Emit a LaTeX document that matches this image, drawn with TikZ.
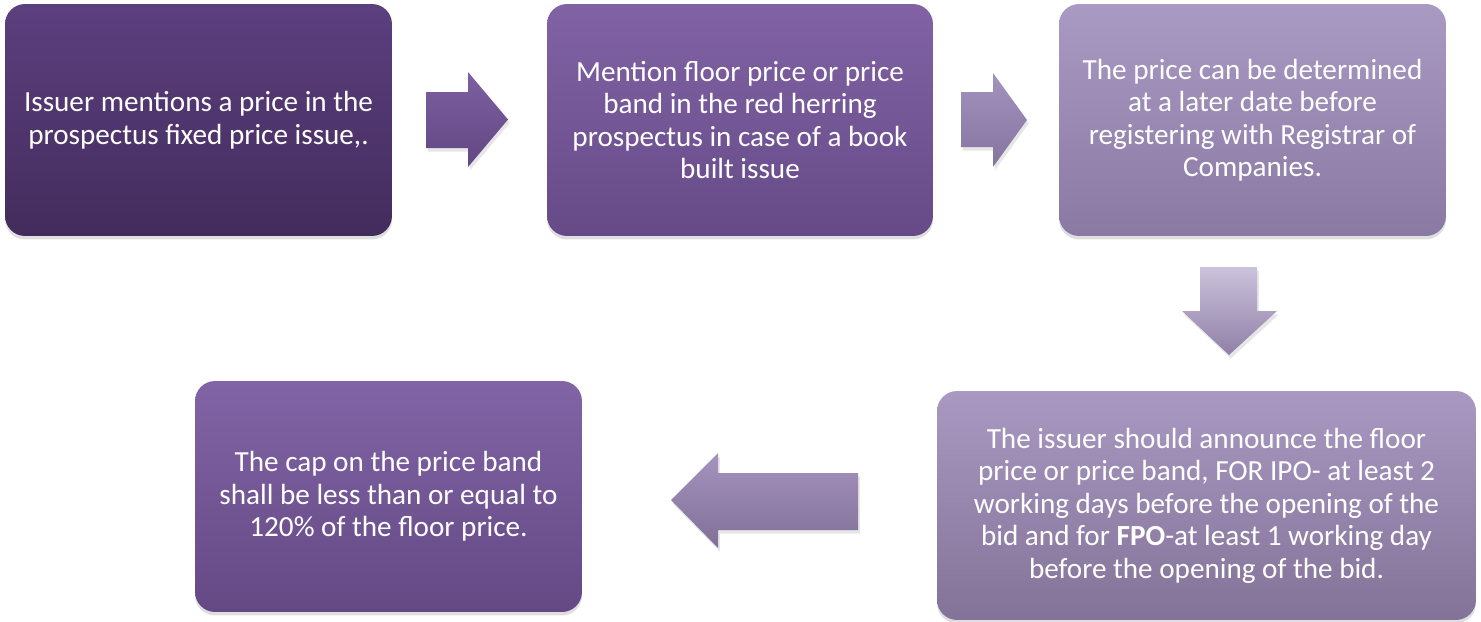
\documentclass[tikz,border=0pt]{standalone}
\usepackage{fontspec}
\setmainfont{Carlito}
\usetikzlibrary{shadows}

\definecolor{boxonetop}{HTML}{5C3F7F}
\definecolor{boxonebot}{HTML}{432C5C}
\definecolor{boxtwotop}{HTML}{8163A5}
\definecolor{boxtwobot}{HTML}{664A87}
\definecolor{boxthreetop}{HTML}{A99AC3}
\definecolor{boxthreebot}{HTML}{8A79A3}
\definecolor{boxfourtop}{HTML}{A999C2}
\definecolor{boxfourbot}{HTML}{837398}
\definecolor{boxfivetop}{HTML}{8164A5}
\definecolor{boxfivebot}{HTML}{644985}

\begin{document}
\begin{tikzpicture}[x=0.02cm, y=-0.02cm,
    stepbox/.style={rounded corners=0.4cm, align=center, text=white, inner sep=0pt,
      font=\fontsize{16.6}{18.5}\selectfont,
      drop shadow={opacity=0.25, shadow xshift=0pt, shadow yshift=-2pt}},
    flowarrow/.style={drop shadow={opacity=0.2, shadow xshift=1pt, shadow yshift=-2pt}}]
  \useasboundingbox (0,0) rectangle (1481,622);

  \node[stepbox, top color=boxonetop, bottom color=boxonebot, minimum width=7.74cm, minimum height=4.64cm] (issuer) at (198.5,120)
    {Issuer mentions a price in the\\prospectus fixed price issue,.};
  \node[stepbox, top color=boxtwotop, bottom color=boxtwobot, minimum width=7.72cm, minimum height=4.64cm] (floor) at (740,120)
    {Mention floor price or price\\band in the red herring\\prospectus in case of a book\\built issue};
  \node[stepbox, top color=boxthreetop, bottom color=boxthreebot, minimum width=7.74cm, minimum height=4.64cm] (later) at (1252.5,120)
    {The price can be determined\\at a later date before\\registering with Registrar of\\Companies.};
  \node[stepbox, top color=boxfourtop, bottom color=boxfourbot, minimum width=10.78cm, minimum height=4.58cm] (announce) at (1206.5,505.5)
    {The issuer should announce the floor\\price or price band, FOR IPO- at least 2\\working days before the opening of the\\bid and for \textbf{FPO}-at least 1 working day\\before the opening of the bid.};
  \node[stepbox, top color=boxfivetop, bottom color=boxfivebot, minimum width=7.74cm, minimum height=4.62cm] (cap) at (388.5,496.5)
    {The cap on the price band\\shall be less than or equal to\\120\% of the floor price.};

  % block arrows between the steps
  \path[flowarrow, top color=boxtwotop!90!boxonetop, bottom color=boxtwobot!90!boxonebot]
    (426,92) -- (468,92) -- (468,72) -- (508,119.5) -- (468,167) -- (468,148) -- (426,148) -- cycle;
  \path[flowarrow, top color=boxthreetop!85!boxtwotop, bottom color=boxthreebot!90!boxtwobot]
    (961,92) -- (993,92) -- (993,73) -- (1027,120) -- (993,167) -- (993,147) -- (961,147) -- cycle;
  \path[flowarrow, top color=boxthreetop!60!white, bottom color=boxthreebot!95!white]
    (1200,267) -- (1257,267) -- (1257,311) -- (1277,311) -- (1229,355) -- (1182,311) -- (1200,311) -- cycle;
  \path[flowarrow, top color=boxfourtop!90!boxfivetop, bottom color=boxfourbot!90!boxfivebot]
    (858,473) -- (718,473) -- (718,453) -- (671,500) -- (718,548) -- (718,530) -- (858,530) -- cycle;
\end{tikzpicture}
\end{document}
